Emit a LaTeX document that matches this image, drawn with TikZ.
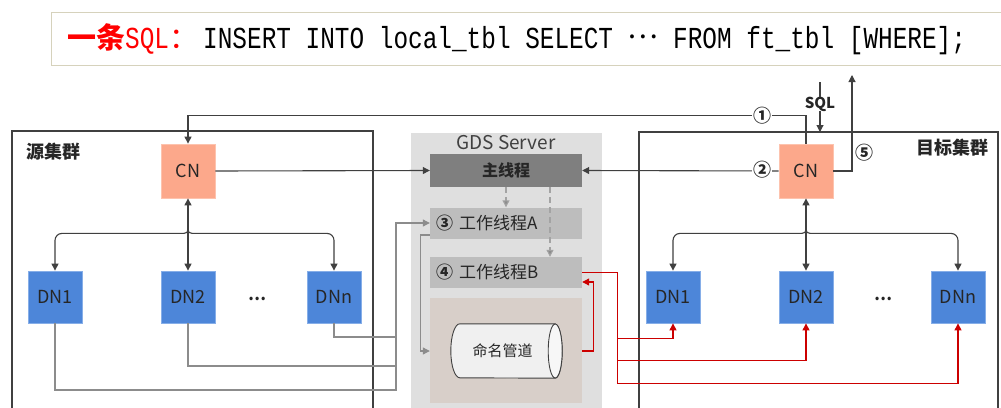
\documentclass[tikz,border=0pt]{standalone}
\usepackage{fontspec}
\setmainfont{Noto Sans CJK SC}
\newfontfamily\cjk{Noto Sans CJK SC}
\newfontfamily\sqlmono[FakeStretch=0.8]{Liberation Mono}
\usetikzlibrary{arrows.meta,shapes.geometric,calc}
\newcommand\fsz[1]{\fontsize{#1pt}{#1pt}\selectfont}
\definecolor{dk}{HTML}{404040}
\definecolor{gl}{HTML}{8C8C8C}
\definecolor{rl}{HTML}{CC0000}
\definecolor{cnfill}{HTML}{FCA88B}
\definecolor{cnline}{HTML}{FDC3AE}
\definecolor{dnfill}{HTML}{4D86D9}
\definecolor{dnline}{HTML}{86AEE8}
\definecolor{gdsfill}{HTML}{DFDFDF}
\definecolor{mainfill}{HTML}{7F7F7F}
\definecolor{workfill}{HTML}{BDBDBD}
\definecolor{tanfill}{HTML}{D8CFC9}
\definecolor{pipebody}{HTML}{F0F0F0}
\definecolor{pipeend}{HTML}{F7F7F7}
\definecolor{txt}{HTML}{262626}
\definecolor{tboxline}{HTML}{D6D2BC}
\definecolor{titlered}{HTML}{FF0000}
\tikzset{
  tip/.tip={Triangle[length=7pt,width=7pt]},
  cnbox/.style={draw=cnline, line width=0.8pt, fill=cnfill, minimum width=54pt, minimum height=54pt, font=\fsz{18}},
  dnbox/.style={draw=dnline, line width=0.8pt, fill=dnfill, minimum width=54pt, minimum height=52pt, font=\fsz{18}},
  gdsbox/.style={fill=gdsfill, minimum width=191pt, minimum height=284pt},
  mainbox/.style={fill=mainfill, minimum width=152pt, minimum height=33pt, font=\fsz{16}\bfseries},
  workbox/.style={fill=workfill, minimum width=152pt, minimum height=31pt, text width=140pt, align=left, font=\fsz{17}},
  tanbox/.style={fill=tanfill, minimum width=152pt, minimum height=105pt},
  pipebox/.style={minimum width=111pt, minimum height=54pt, font=\fsz{15}},
  pipeline/.style={draw=dk, line width=0.9pt},
  titlebox/.style={draw=tboxline, line width=1pt, fill=white, minimum width=959pt, minimum height=53pt},
  lbl/.style={font=\fsz{18}\bfseries},
  numlbl/.style={font=\fsz{18}\bfseries, fill=white, inner sep=1pt},
  frame/.style={draw=dk, line width=1.1pt},
  dkline/.style={draw=dk, line width=1.1pt},
  dkarrow/.style={dkline, -tip},
  dkboth/.style={dkline, tip-tip},
  glline/.style={draw=gl, line width=1.1pt},
  glarrow/.style={glline, -tip},
  gldash/.style={draw=gl!80, line width=1.1pt, dash pattern=on 6pt off 4pt, -{Triangle[length=7pt,width=7pt,fill=gl]}},
  rdline/.style={draw=rl, line width=1.1pt},
  rdarrow/.style={rdline, -tip},
}
\begin{document}
\begin{tikzpicture}[x=1pt,y=-1pt, every node/.style={inner sep=0pt, text=txt}]
\useasboundingbox (0,0) rectangle (1001,407);
\clip (0,0) rectangle (1001,407);
\fill[white] (0,0) rectangle (1001,407);

% title
\node[titlebox] (tbox) at (530.5,38.5) {};
\node[anchor=base west, text=titlered] (tred) at (67,48) {{\cjk\bfseries\fsz{29}一条}{\sqlmono\fsz{30.5}SQL}{\cjk\fsz{29}：}};
\node[anchor=base west, text=black] (tsql) at (203,48) {\sqlmono\fsz{30.5}INSERT INTO local\_tbl SELECT \raisebox{0.3em}{\cjk\fsz{29}…} FROM ft\_tbl [WHERE];};

% frames
\draw[frame] (12,415) |- (373,131) -- (373,415);
\draw[frame] (639,415) |- (998,132) -- (998,415);
\node[lbl, anchor=west] (srclbl) at (26,152) {源集群};
\node[lbl, anchor=east] (dstlbl) at (989,148) {目标集群};

% GDS server
\node[gdsbox] (gds) at (506.5,275) {};
\node[font=\fsz{19}, text=dk] (gdstitle) at (506,143) {GDS Server};
\node[mainbox] (main) at (506,170.5) {主线程};
\node[workbox] (wa) at (506,223) {\textbf{③}\hspace{6pt}工作线程A};
\node[workbox] (wb) at (506,272.5) {\textbf{④}\hspace{6pt}工作线程B};
\node[tanbox] (tan) at (506,350.5) {};
\node[pipebox] (pipe) at (506.5,351) {};
\filldraw[pipeline, fill=pipebody]
  ($(pipe.north east)+(-7,0)$) -- ($(pipe.north west)+(9,0)$)
  arc[start angle=90, end angle=270, x radius=9pt, y radius=27pt]
  -- ($(pipe.south east)+(-7,0)$)
  arc[start angle=-90, end angle=90, x radius=7pt, y radius=27pt] -- cycle;
\filldraw[pipeline, fill=pipeend] ($(pipe.east)+(-7,0)$) ellipse[x radius=7pt, y radius=27pt];
\node[font=\fsz{15}] (pipetext) at ($(pipe.center)+(-4,0)$) {命名管道};

% source cluster
\node[cnbox] (scn) at (188,171) {CN};
\node[dnbox] (sdn1) at (55,297) {DN1};
\node[dnbox] (sdn2) at (188,297) {DN2};
\node[dnbox] (sdnn) at (334,297) {DNn};
\node[font=\fsz{16}\bfseries] (sdots) at (257,299) {…};

% target cluster
\node[cnbox] (tcn) at (806,171) {CN};
\node[dnbox] (tdn1) at (673,297) {DN1};
\node[dnbox] (tdn2) at (806,297) {DN2};
\node[dnbox] (tdnn) at (958,297) {DNn};
\node[font=\fsz{16}\bfseries] (tdots) at (883,299) {…};

% trees
\draw[dkboth] (scn.south) -- (sdn2.north);
\draw[dkarrow] ($(scn.south)+(0,27)$) .. controls ($(scn.south)+(0,35)$) .. ($(scn.south)+(-9,35)$) [rounded corners=7pt] -| (sdn1.north);
\draw[dkarrow] ($(scn.south)+(0,27)$) .. controls ($(scn.south)+(0,35)$) .. ($(scn.south)+(9,35)$) [rounded corners=7pt] -| (sdnn.north);
\draw[dkboth] (tcn.south) -- (tdn2.north);
\draw[dkarrow] ($(tcn.south)+(0,27)$) .. controls ($(tcn.south)+(0,35)$) .. ($(tcn.south)+(-9,35)$) [rounded corners=7pt] -| (tdn1.north);
\draw[dkarrow] ($(tcn.south)+(0,27)$) .. controls ($(tcn.south)+(0,35)$) .. ($(tcn.south)+(9,35)$) [rounded corners=7pt] -| (tdnn.north);

% CN to main thread
\draw[dkarrow] (scn.east) -- (main.west);
\draw[dkarrow] (tcn.west) -- (main.east);
\node[numlbl] (n2) at (762,170) {②};
\draw[dkarrow] (tcn.north) |- ($(scn.north)+(0,-28)$) -- (scn.north);
\node[numlbl] (n1) at (762,116) {①};

% SQL in, result out
\coordinate (sqltop) at (820,82);
\coordinate (sqlin) at (820,132);
\node[font=\fsz{15}\bfseries] (sql) at (820,104) {SQL};
\draw[dkline] (sqltop) -- (sql.north);
\draw[dkarrow] (sql.south) -- (sqlin);
\coordinate (out5) at (852,75);
\draw[dkarrow] (tcn.east) -| (out5);
\node[numlbl, fill=none] (n5) at (864,153) {⑤};

% inside GDS
\draw[gldash] (main.south) -- (wa.north);
\draw[gldash] ($(main.south)+(44,0)$) -- ($(wb.north)+(44,0)$);

% source DNs to worker A
\coordinate (mb) at (396,390);
\coordinate (mt) at (396,223);
\draw[glarrow] (sdn1.south) |- (mb) -- (mt) -- (wa.west);
\draw[glline] (sdn2.south) |- (396,366);
\draw[glline] (sdnn.south) |- (396,337);
\draw[glarrow] ($(wa.west)+(0,12)$) -- ++(-9,0) |- (tan.west |- pipe.center);

% pipe to worker B, worker B to target DNs
\draw[rdarrow] (tan.east |- pipe.center) -- ++(11,0) |- ($(wb.east)+(0,9.5)$);
\draw[rdarrow] (wb.east) -- ++(35,0) |- ($(tdn1.south)+(0,15)$) -- (tdn1.south);
\draw[rdarrow] (wb.east) -- ++(35,0) |- ($(tdn2.south)+(0,37)$) -- (tdn2.south);
\draw[rdarrow] (wb.east) -- ++(35,0) |- ($(tdnn.south)+(0,60)$) -- (tdnn.south);
\end{tikzpicture}
\end{document}
